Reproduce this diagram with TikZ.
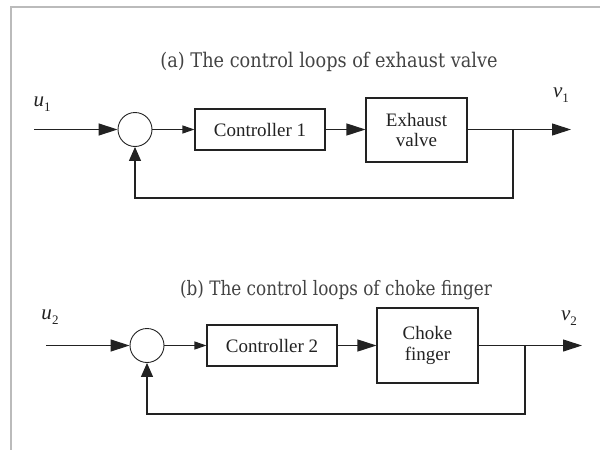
\documentclass[tikz,border=0pt]{standalone}
\usepackage{fontspec}
\setmainfont{Liberation Serif}
\newfontfamily\titlefont{DejaVu Serif}
\usetikzlibrary{arrows.meta}
\definecolor{ink}{HTML}{222222}
\definecolor{frame}{HTML}{BBBBBB}
\tikzset{
  blk/.style={draw=ink, line width=1.1pt, rectangle, inner sep=0pt, align=center,
    font=\fontsize{19}{20.5}\selectfont, text=ink},
  sumc/.style={draw=ink, line width=0.9pt, circle, minimum size=34pt, inner sep=0pt},
  wire/.style={draw=ink, line width=1.1pt},
  bigarr/.style={wire, -{Triangle[length=19pt,width=12pt]}},
  smallarr/.style={wire, -{Triangle[length=12pt,width=8pt]}},
  fbarr/.style={wire, -{Triangle[length=14pt,width=12pt]}},
  ttl/.style={anchor=base, text=ink!85, inner sep=0pt},
  sig/.style={text=ink, inner sep=0pt, font=\fontsize{21}{21}\selectfont\itshape},
}
\newcommand{\sigsub}[2]{#1\raisebox{-5pt}{\upshape\fontsize{13}{13}\selectfont #2}}
% caption line of a given width
\newcommand{\captext}[2]{\resizebox*{#1}{19.5pt}{\titlefont #2}}
\begin{document}
\begin{tikzpicture}[x=1pt,y=-1pt]
\useasboundingbox (0,0) rectangle (600,450);
\fill[white] (0,0) rectangle (600,450);
% light frame along the top and left edges
\draw[frame, line width=2pt] (11,450) -- (11,7) -- (600,7);

% ---- (a) exhaust valve loop ----
\node[ttl] (ta) at (329,67) {\captext{337pt}{(a) The control loops of exhaust valve}};
\node[sig] (u1) at (42,104) {\sigsub{u}{1}};
\node[sig] (v1) at (561,95) {\sigsub{v}{1}};
\coordinate (in1) at (34,129.5);
\node[sumc] (s1) at (135,129.5) {};
\node[blk, minimum width=130pt, minimum height=41pt] (c1) at (260,129.5) {Controller 1};
\node[blk, minimum width=101pt, minimum height=64pt] (p1) at (416.5,130) {Exhaust\\valve};
\coordinate (br1) at (513,129.5);
\coordinate (out1) at (571,129.5);
\coordinate (fb1) at (513,198);
\draw[bigarr] (in1) -- (s1.west);
\draw[smallarr] (s1.east) -- (c1.west);
\draw[bigarr] (c1.east) -- (p1.west|-c1.east);
\draw[bigarr] (p1.east|-br1) -- (out1);
\draw[fbarr] (br1) -- (fb1) -| (s1.south);

% ---- (b) choke finger loop ----
\node[ttl] (tb) at (336,295) {\captext{312pt}{(b) The control loops of choke finger}};
\node[sig] (u2) at (50,317) {\sigsub{u}{2}};
\node[sig] (v2) at (569,318) {\sigsub{v}{2}};
\coordinate (in2) at (46,345.5);
\node[sumc] (s2) at (147,345.5) {};
\node[blk, minimum width=130pt, minimum height=41pt] (c2) at (272,345.5) {Controller 2};
\node[blk, minimum width=101pt, minimum height=75pt] (p2) at (427.5,345.5) {Choke\\finger};
\coordinate (br2) at (525,345.5);
\coordinate (out2) at (582,345.5);
\coordinate (fb2) at (525,414);
\draw[bigarr] (in2) -- (s2.west);
\draw[smallarr] (s2.east) -- (c2.west);
\draw[bigarr] (c2.east) -- (p2.west);
\draw[bigarr] (p2.east) -- (out2);
\draw[fbarr] (br2) -- (fb2) -| (s2.south);
\end{tikzpicture}
\end{document}
